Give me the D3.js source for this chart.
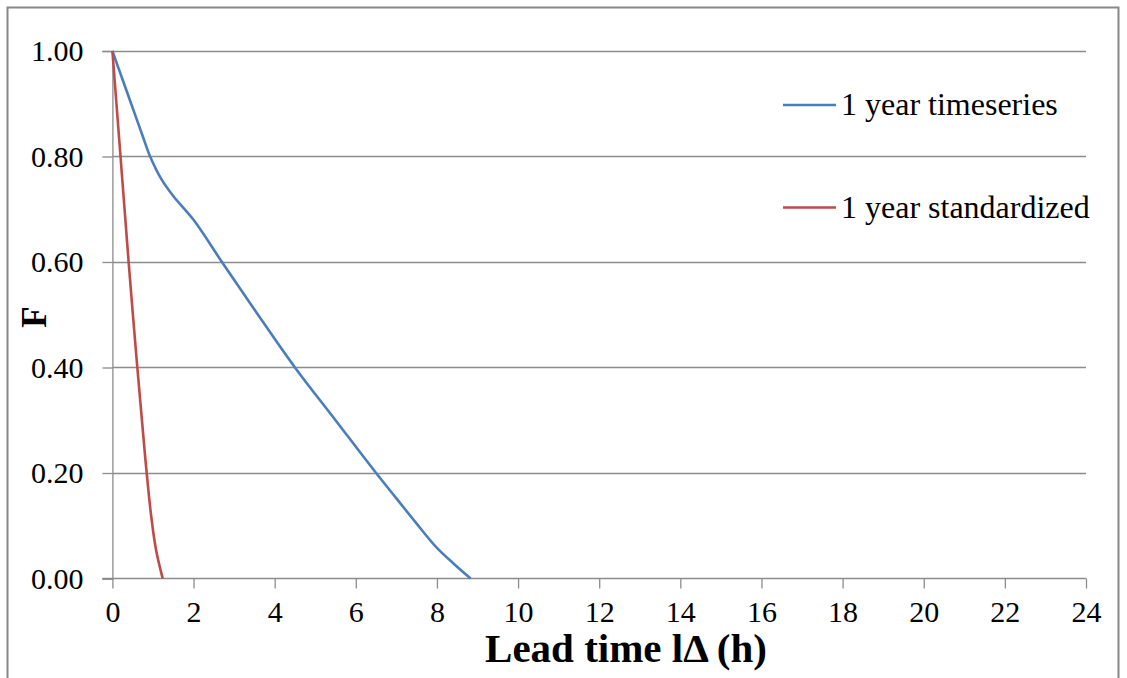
<!DOCTYPE html>
<html><head><meta charset="utf-8">
<script src="https://cdn.jsdelivr.net/npm/d3@7"></script>
<style>body{margin:0;background:#fff}svg{display:block}
svg text{font-family:"Liberation Serif","Times New Roman",Times,"DejaVu Serif",serif;}</style>
</head><body>
<svg id="c" width="1127" height="678"></svg>
<script>
// Data
const seriesNames = ["1 year timeseries", "1 year standardized"];
const timeseriesX = [0, 0.25, 0.5, 0.75, 0.93, 1.2, 1.5, 2.0, 2.7, 3.5, 4.5, 5.5, 6.5, 7.0, 7.5, 8.0, 8.4, 8.83];
const timeseriesF = [1, 0.946, 0.892, 0.838, 0.80, 0.758, 0.725, 0.68, 0.60, 0.51, 0.40, 0.30, 0.20, 0.152, 0.104, 0.058, 0.029, 0];
const standardizedX = [0, 0.1, 0.2, 0.3, 0.4, 0.5, 0.6, 0.7, 0.8, 0.9, 0.95, 1.0, 1.05, 1.1, 1.2, 1.24];
const standardizedF = [1, 0.90, 0.80, 0.70, 0.60, 0.505, 0.413, 0.325, 0.237, 0.157, 0.122, 0.092, 0.066, 0.045, 0.012, 0];
const xTicks = [0, 2, 4, 6, 8, 10, 12, 14, 16, 18, 20, 22, 24];
const yTicks = [0, 0.2, 0.4, 0.6, 0.8, 1.0];
const colors = ["#4a7ebb", "#be4b48"];

const svg = d3.select("#c");
const x = d3.scaleLinear().domain([0, 24]).range([112.4, 1086]);
const y = d3.scaleLinear().domain([0, 1]).range([578.5, 51]);

// chart border
svg.append("rect").attr("x", 7.5).attr("y", 7.5).attr("width", 1111).attr("height", 700)
  .attr("fill", "none").attr("stroke", "#878787").attr("stroke-width", 2);

// gridlines
svg.append("g").selectAll("line").data(yTicks.filter(d => d > 0)).join("line")
  .attr("x1", x(0)).attr("x2", x(24)).attr("y1", d => Math.round(y(d)) + 0.5).attr("y2", d => Math.round(y(d)) + 0.5)
  .attr("stroke", "#8c8c8c").attr("stroke-width", 1.3);

// y axis
const yAxis = d3.axisLeft(y).tickValues(yTicks).tickFormat(d3.format(".2f")).tickSize(10).tickPadding(19);
const gy = svg.append("g").attr("transform", `translate(${x(0)},0)`).call(yAxis);
gy.attr("font-family", null);
gy.select(".domain").attr("stroke", "#8c8c8c").attr("stroke-width", 1.3);
gy.selectAll(".tick line").attr("stroke", "#8c8c8c").attr("stroke-width", 1.3);
gy.selectAll("text").attr("font-size", 30).attr("fill", "#000");

// x axis
const xAxis = d3.axisBottom(x).tickValues(xTicks).tickSize(10).tickPadding(12);
const gx = svg.append("g").attr("transform", `translate(0,${y(0)})`).call(xAxis);
gx.attr("font-family", null);
gx.select(".domain").attr("stroke", "#8c8c8c").attr("stroke-width", 1.3).attr("d", `M${x(0)-10},0H${x(24)}`);
gx.selectAll(".tick line").attr("stroke", "#8c8c8c").attr("stroke-width", 1.3);
gx.selectAll("text").attr("font-size", 30).attr("fill", "#000");

// lines
const line = d3.line().x(d => x(d[0])).y(d => y(d[1])).curve(d3.curveCatmullRom.alpha(0.5));
const series = [d3.zip(timeseriesX, timeseriesF), d3.zip(standardizedX, standardizedF)];
svg.append("g").selectAll("path").data(series).join("path")
  .attr("d", line).attr("fill", "none").attr("stroke", (d, i) => colors[i]).attr("stroke-width", 2.6);

// legend
const lg = svg.append("g").selectAll("g").data(seriesNames).join("g")
  .attr("transform", (d, i) => `translate(783,${105 + i * 102.5})`);
lg.append("line").attr("x1", 0).attr("x2", 53).attr("stroke", (d, i) => colors[i]).attr("stroke-width", 2.6);
lg.append("text").attr("x", 58).attr("y", 10).text(d => d)
  .attr("font-size", 32).attr("fill", "#000");

// axis titles
svg.append("text").attr("x", 626).attr("y", 662).attr("text-anchor", "middle")
  .attr("font-size", 41).attr("font-weight", "bold").text("Lead time lΔ (h)");
svg.append("text").attr("transform", "translate(46,317) rotate(-90)").attr("text-anchor", "middle")
  .attr("font-size", 35).attr("font-weight", "bold").text("F");
</script>
</body></html>
